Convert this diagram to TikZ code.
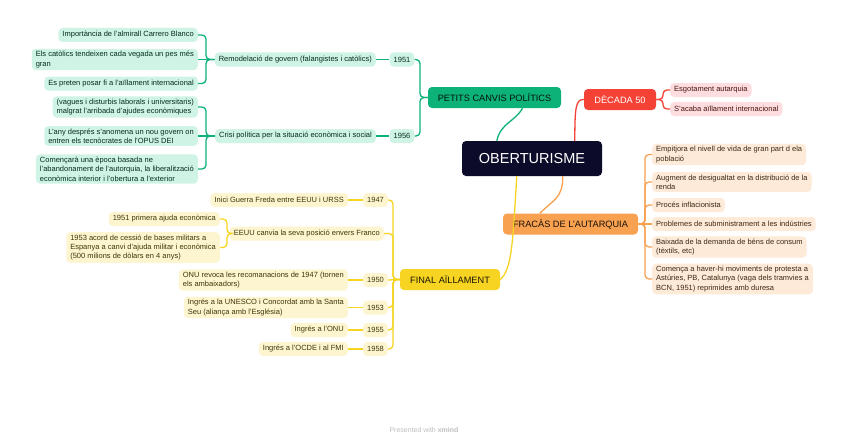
\documentclass[tikz,border=0pt]{standalone}
\usepackage{fontspec}
\setmainfont{Liberation Sans}
\usepackage{tikz}
\definecolor{navy}{RGB}{12,12,42}
\definecolor{gmain}{RGB}{13,178,120}
\definecolor{glight}{RGB}{207,243,228}
\definecolor{rmain}{RGB}{244,67,54}
\definecolor{rlight}{RGB}{253,221,223}
\definecolor{omain}{RGB}{248,161,80}
\definecolor{olight}{RGB}{253,234,216}
\definecolor{ymain}{RGB}{247,212,33}
\definecolor{ylight}{RGB}{253,245,207}
\begin{document}
\begin{tikzpicture}[x=1pt,y=-1pt, inner sep=0.1mm, >=stealth,
  ctr/.style={fill=navy,text=white,rounded corners=4,minimum width=140,minimum height=35,font=\fontsize{14.5}{16}\selectfont},
  mainbox/.style={rounded corners=4,minimum height=21,font=\fontsize{9.2}{11}\selectfont},
  sub/.style={rounded corners=4,inner xsep=4,inner ysep=2.4,minimum height=14,align=left,font=\fontsize{7.5}{9.4}\selectfont},
  gsub/.style={sub,fill=glight,text=gmain!25!black},
  rsub/.style={sub,fill=rlight,text=rmain!30!black},
  osub/.style={sub,fill=olight,text=omain!25!black},
  ysub/.style={sub,fill=ylight,text=ymain!25!black},
  gline/.style={draw=gmain,line width=1.3pt,rounded corners=4},
  rline/.style={draw=rmain,line width=1.3pt,rounded corners=4},
  oline/.style={draw=omain,line width=1.3pt,rounded corners=4},
  yline/.style={draw=ymain,line width=1.3pt,rounded corners=4}]
\useasboundingbox[fill=white] (0,0) rectangle (848,444);
\node (c) at (532,158.5) [ctr] {OBERTURISME};
\node (pg) at (494.5,97.5) [mainbox,fill=gmain,text=gmain!10!black,minimum width=133] {PETITS CANVIS POLÍTICS};
\node (d50) at (620,99.5) [mainbox,fill=rmain,text=white,minimum width=72] {DÈCADA 50};
\node (fra) at (570.5,224) [mainbox,fill=omain,text=omain!10!black,minimum width=135] {FRACÀS DE L'AUTARQUIA};
\node (fa) at (450,279.5) [mainbox,fill=ymain,text=ymain!10!black,minimum width=100] {FINAL AÏLLAMENT};
\node (y51) at (402,59.5) [gsub] {1951};
\node (rem) at (376,59.5) [gsub,anchor=east] {Remodelació de govern (falangistes i catòlics)};
\node (r1) at (198,35) [gsub,anchor=east] {Importància de l'almirall Carrero Blanco};
\node (r2) at (198,59.5) [gsub,anchor=east] {Els catòlics tendeixen cada vegada un pes més\\gran};
\node (r3) at (198,83.5) [gsub,anchor=east] {Es preten posar fi a l'aïllament internacional};
\node (y56) at (402,136) [gsub] {1956};
\node (cri) at (376,136) [gsub,anchor=east] {Crisi política per la situació econòmica i social};
\node (k1) at (198,107) [gsub,anchor=east] {(vagues i disturbis laborals i universitaris)\\malgrat l'arribada d'ajudes econòmiques};
\node (k2) at (198,136) [gsub,anchor=east] {L'any després s'anomena un nou govern on\\entren els tecnòcrates de l'OPUS DEI};
\node (k3) at (198,169) [gsub,anchor=east] {Començarà una època basada ne\\l'abandonament de l'autorquia, la liberalització\\econòmica interior i l'obertura a l'exterior};
\node (e1) at (670,90) [rsub,anchor=west] {Esgotament autarquia};
\node (e2) at (670,109) [rsub,anchor=west] {S'acaba aïllament internacional};
\node (f1) at (652,154.5) [osub,anchor=west] {Empitjora el nivell de vida de gran part d ela\\població};
\node (f2) at (652,182) [osub,anchor=west] {Augment de desigualtat en la distribució de la\\renda};
\node (f3) at (652,205) [osub,anchor=west] {Procés inflacionista};
\node (f4) at (652,224) [osub,anchor=west] {Problemes de subministrament a les indústries};
\node (f5) at (652,247) [osub,anchor=west] {Baixada de la demanda de béns de consum\\(tèxtils, etc)};
\node (f6) at (652,279) [osub,anchor=west] {Comença a haver-hi moviments de protesta a\\Astúries, PB, Catalunya (vaga dels tramvies a\\BCN, 1951) reprimides amb duresa};
\node (y47) at (375.5,200) [ysub] {1947};
\node (y50) at (375.5,280) [ysub] {1950};
\node (y53) at (375.5,307.5) [ysub] {1953};
\node (y55) at (375.5,330) [ysub] {1955};
\node (y58) at (375.5,349) [ysub] {1958};
\node (a47) at (348,200) [ysub,anchor=east] {Inici Guerra Freda entre EEUU i URSS};
\node (us) at (384,233.5) [ysub,anchor=east] {EEUU canvia la seva posició envers Franco};
\node (u1) at (220,219) [ysub,anchor=east] {1951 primera ajuda econòmica};
\node (u2) at (220,247.5) [ysub,anchor=east] {1953 acord de cessió de bases militars a\\Espanya a canvi d'ajuda militar i econòmica\\(500 milions de dòlars en 4 anys)};
\node (a50) at (348,280) [ysub,anchor=east] {ONU revoca les recomanacions de 1947 (tornen\\els ambaixadors)};
\node (a53) at (348,307.5) [ysub,anchor=east] {Ingrés a la UNESCO i Concordat amb la Santa\\Seu (aliança amb l'Església)};
\node (a55) at (348,330) [ysub,anchor=east] {Ingrés a l'ONU};
\node (a58) at (348,349) [ysub,anchor=east] {Ingrés a l'OCDE i al FMI};
\node (xm) at (424,430) [text=black!25,font=\fontsize{7}{8}\selectfont] {Presented with \textbf{xmind}};
\coordinate (kpg) at (420,97.5);
\coordinate (krem) at (206,59.5);
\coordinate (kcri) at (206,136);
\coordinate (kd) at (663,99.5);
\coordinate (kf) at (645,224);
\coordinate (kfa) at (393,279.5);
\coordinate (kus) at (227,233.5);
\draw[gline] ([xshift=35]c.north west) .. controls +(4,-18) and +(-8,14) .. ([xshift=28]pg.south);
\draw[rline] ([xshift=113]c.north west) .. controls +(0,-34) and +(-8,0) .. (d50.west);
\draw[oline] ([xshift=101]c.south west) .. controls +(0,22) and +(14,-14) .. ([xshift=37]fra.north west);
\draw[yline] ([xshift=55]c.south west) .. controls +(-4,64) and +(12,-10) .. (fa.east);
\draw[gline] (y51.east) -| (kpg) -- (pg.west);
\draw[gline] (y56.east) -| (kpg) -- (pg.west);
\draw[gline] (rem) -- (y51);
\draw[gline] (cri) -- (y56);
\draw[gline] (r1.east) -| (krem) -- (rem.west);
\draw[gline] (r2.east) -- (rem.west);
\draw[gline] (r3.east) -| (krem) -- (rem.west);
\draw[gline] (k1.east) -| (kcri) -- (cri.west);
\draw[gline] (k2.east) -- (cri.west);
\draw[gline] (k3.east) -| (kcri) -- (cri.west);
\draw[rline] (d50.east) -- (kd) |- (e1.west);
\draw[rline] (d50.east) -- (kd) |- (e2.west);
\draw[oline] (fra.east) -- (kf) |- (f1.west);
\draw[oline] (fra.east) -- (kf) |- (f2.west);
\draw[oline] (fra.east) -- (kf) |- (f3.west);
\draw[oline] (fra.east) -- (f4.west);
\draw[oline] (fra.east) -- (kf) |- (f5.west);
\draw[oline] (fra.east) -- (kf) |- (f6.west);
\draw[yline] (y47.east) -| (kfa) -- (fa.west);
\draw[yline] (us.east) -| (kfa) -- (fa.west);
\draw[yline] (y50.east) -- (fa.west);
\draw[yline] (y53.east) -| (kfa) -- (fa.west);
\draw[yline] (y55.east) -| (kfa) -- (fa.west);
\draw[yline] (y58.east) -| (kfa) -- (fa.west);
\draw[yline] (a47) -- (y47);
\draw[yline] (a50) -- (y50);
\draw[yline] (a53) -- (y53);
\draw[yline] (a55) -- (y55);
\draw[yline] (a58) -- (y58);
\draw[yline] (u1.east) -| (kus) -- (us.west);
\draw[yline] (u2.east) -| (kus) -- (us.west);
\end{tikzpicture}
\end{document}
